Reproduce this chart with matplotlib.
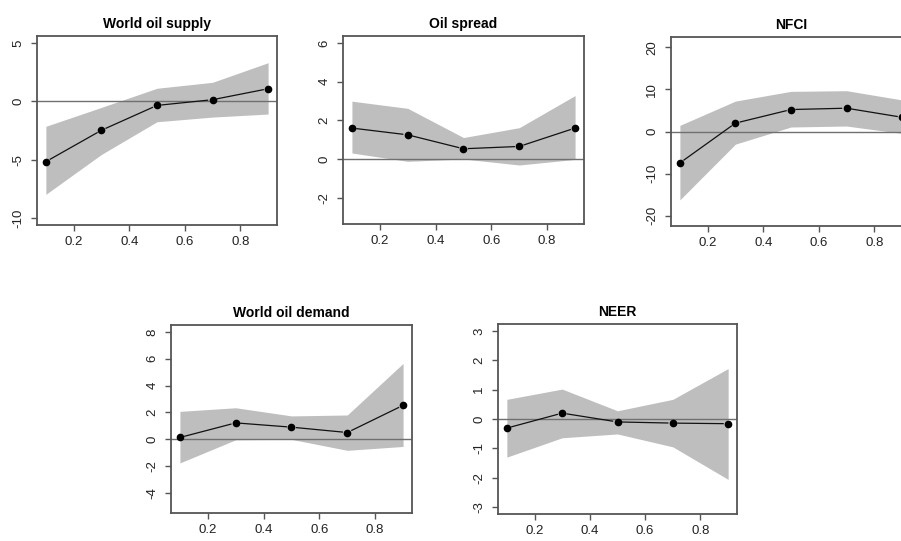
import numpy as np
import matplotlib
matplotlib.use("Agg")
import matplotlib.pyplot as plt

plt.rcParams['font.family'] = ['Liberation Sans', 'DejaVu Sans']

quantiles = [0.1, 0.3, 0.5, 0.7, 0.9]

titles = ["World oil supply", "Oil spread", "NFCI", "World oil demand", "NEER"]

supply_mid = [-5.17, -2.48, -0.35, 0.14, 1.08]
supply_hi = [-2.14, -0.52, 1.12, 1.63, 3.31]
supply_lo = [-7.97, -4.55, -1.75, -1.35, -1.09]

spread_mid = [1.60, 1.25, 0.53, 0.65, 1.60]
spread_hi = [2.99, 2.62, 1.11, 1.62, 3.28]
spread_lo = [0.31, -0.12, 0.0, -0.31, -0.02]

nfci_mid = [-7.47, 1.99, 5.22, 5.54, 3.38]
nfci_hi = [1.46, 7.23, 9.54, 9.70, 7.50]
nfci_lo = [-16.25, -3.0, 1.07, 1.30, -0.46]

demand_mid = [0.12, 1.21, 0.89, 0.49, 2.52]
demand_hi = [2.07, 2.34, 1.73, 1.80, 5.65]
demand_lo = [-1.78, -0.05, -0.02, -0.84, -0.55]

neer_mid = [-0.31, 0.20, -0.10, -0.14, -0.16]
neer_hi = [0.67, 1.02, 0.28, 0.67, 1.72]
neer_lo = [-1.30, -0.64, -0.51, -0.95, -2.06]

mids = [supply_mid, spread_mid, nfci_mid, demand_mid, neer_mid]
his = [supply_hi, spread_hi, nfci_hi, demand_hi, neer_hi]
los = [supply_lo, spread_lo, nfci_lo, demand_lo, neer_lo]

ylims = [(-10, 5), (-3, 6), (-20.8, 20.8), (-5, 8), (-3, 3)]
yticks = [[-10, -5, 0, 5], [-2, 0, 2, 4, 6], [-20, -10, 0, 10, 20],
          [-4, -2, 0, 2, 4, 6, 8], [-3, -2, -1, 0, 1, 2, 3]]

W, H = 901, 541
# axes boxes in pixels: left, top, right, bottom
boxes = [(37, 36, 277, 225), (343, 36, 584, 224), (671, 37, 911, 226),
         (171, 325, 412, 513), (498, 324, 737, 514)]

fig = plt.figure(figsize=(W / 100, H / 100), dpi=100)
frame_col = '#555555'
txt_col = '#222222'


def draw_b_line(ax, x, y, gap=5):
    # R type="b": segments with gaps around the points
    pts = ax.transData.transform(np.column_stack([x, y]))
    inv = ax.transData.inverted()
    for i in range(len(pts) - 1):
        p0, p1 = pts[i], pts[i + 1]
        d = p1 - p0
        L = np.hypot(*d)
        if L <= 2 * gap:
            continue
        u = d / L
        a = inv.transform(p0 + u * gap)
        b = inv.transform(p1 - u * gap)
        ax.plot([a[0], b[0]], [a[1], b[1]], color='#111111', lw=0.9)


for i in range(5):
    l, t, r, b = boxes[i]
    ax = fig.add_axes([l / W, (H - b) / H, (r - l) / W, (b - t) / H])
    lo_y, hi_y = ylims[i]
    pad = 0.04 * (hi_y - lo_y)
    ax.set_xlim(0.1 - 0.032, 0.9 + 0.032)
    ax.set_ylim(lo_y - pad, hi_y + pad)

    ax.fill_between(quantiles, los[i], his[i], color='#bebebe', lw=0)
    ax.axhline(0, color='#707070', lw=1)
    draw_b_line(ax, quantiles, mids[i])
    ax.plot(quantiles, mids[i], 'o', color='black', ms=4.5, clip_on=False)

    ax.set_xticks([0.2, 0.4, 0.6, 0.8])
    ax.set_yticks(yticks[i])
    ax.set_yticklabels([str(v) for v in yticks[i]], rotation=90, va='center')
    ax.tick_params(direction='out', length=4.5, width=1, color=frame_col,
                   labelsize=9.5, labelcolor=txt_col)
    ax.tick_params(axis='x', pad=3.5)
    ax.tick_params(axis='y', pad=4.7)
    for s in ax.spines.values():
        s.set_color(frame_col)
        s.set_linewidth(1.3)
    ax.set_title(titles[i], fontsize=10, fontweight='bold', pad=5.5)

fig.savefig('out.png', dpi=100)
